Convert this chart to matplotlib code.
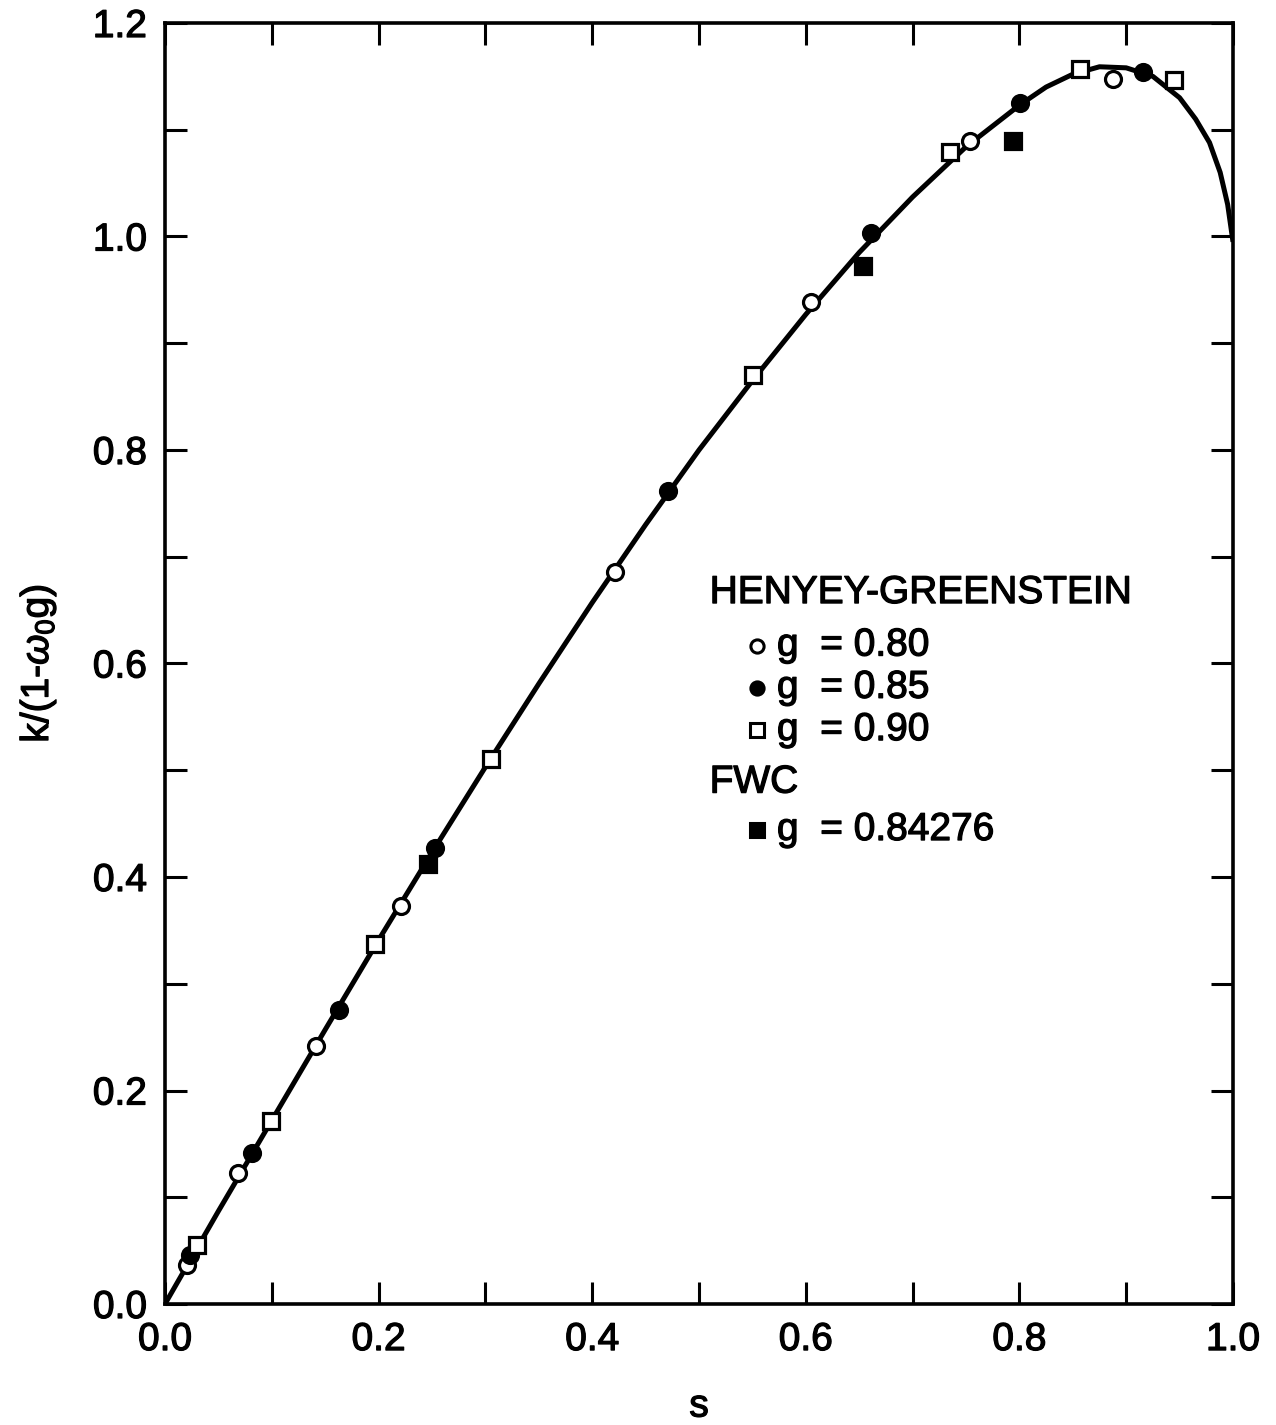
import matplotlib
matplotlib.use("Agg")
import matplotlib.pyplot as plt
import matplotlib.patheffects as pe
from matplotlib.ticker import MultipleLocator

plt.rcParams['font.family'] = ['Liberation Sans', 'DejaVu Sans']
plt.rcParams['mathtext.fontset'] = 'custom'
plt.rcParams['mathtext.rm'] = 'Liberation Sans'
plt.rcParams['mathtext.it'] = 'Liberation Sans:italic'

# Fitted curve
curve_s = [0, 0.05, 0.1, 0.15, 0.2, 0.25, 0.3, 0.35, 0.4, 0.45, 0.5, 0.55, 0.6,
           0.65, 0.7, 0.75, 0.8, 0.825, 0.85, 0.875, 0.9, 0.925, 0.95, 0.965,
           0.978, 0.988, 0.995, 1.0]
curve_k = [0, 0.087, 0.172, 0.257, 0.341, 0.423, 0.503, 0.581, 0.657, 0.730,
           0.800, 0.865, 0.927, 0.985, 1.037, 1.084, 1.123, 1.140, 1.152, 1.159,
           1.158, 1.150, 1.130, 1.110, 1.088, 1.060, 1.030, 0.995]

# Henyey-Greenstein g = 0.80 (open circles)
hg80_s = [0.021, 0.068, 0.141, 0.221, 0.421, 0.605, 0.754, 0.888]
hg80_k = [0.037, 0.123, 0.242, 0.373, 0.686, 0.939, 1.089, 1.148]

# Henyey-Greenstein g = 0.85 (filled circles)
hg85_s = [0.023, 0.081, 0.163, 0.253, 0.471, 0.661, 0.801, 0.916]
hg85_k = [0.046, 0.141, 0.275, 0.427, 0.762, 1.003, 1.125, 1.154]

# Henyey-Greenstein g = 0.90 (open squares)
hg90_s = [0.030, 0.099, 0.197, 0.305, 0.551, 0.735, 0.857, 0.945]
hg90_k = [0.055, 0.171, 0.337, 0.511, 0.870, 1.079, 1.157, 1.147]

# FWC g = 0.84276 (filled squares)
fwc_s = [0.246, 0.654, 0.794]
fwc_k = [0.412, 0.972, 1.089]

fig = plt.figure(figsize=(12.76, 14.25), dpi=100)
ax = fig.add_axes([165/1276, 121/1425, 1068/1276, 1281/1425])

ax.plot(curve_s, curve_k, color='black', lw=3.6, solid_capstyle='butt',
        solid_joinstyle='round', zorder=2)

ms = 11.5
mew = 2.3
ax.plot(hg80_s, hg80_k, 'o', ms=ms, mfc='white', mec='black', mew=mew, zorder=3)
ax.plot(hg85_s, hg85_k, 'o', ms=ms, mfc='black', mec='black', mew=mew, zorder=3)
ax.plot(hg90_s, hg90_k, 's', ms=ms, mfc='white', mec='black', mew=mew, zorder=3)
ax.plot(fwc_s, fwc_k, 's', ms=ms, mfc='black', mec='black', mew=mew, zorder=3)

ax.set_xlim(0, 1.0)
ax.set_ylim(0, 1.2)

ax.xaxis.set_major_locator(MultipleLocator(0.2))
ax.xaxis.set_minor_locator(MultipleLocator(0.1))
ax.yaxis.set_major_locator(MultipleLocator(0.2))
ax.yaxis.set_minor_locator(MultipleLocator(0.1))
ax.xaxis.set_major_formatter(plt.FuncFormatter(lambda v, p: f"{v:.1f}"))
ax.yaxis.set_major_formatter(plt.FuncFormatter(lambda v, p: f"{v:.1f}"))

fs = 28
bold = [pe.withStroke(linewidth=0.9, foreground='black')]
for which in ('major', 'minor'):
    ax.tick_params(axis='both', which=which, direction='in', length=16, width=2.2,
                   top=True, right=True, labelsize=fs, pad=13)
for lab in ax.get_xticklabels() + ax.get_yticklabels():
    lab.set_path_effects(bold)

for sp in ax.spines.values():
    sp.set_linewidth(2.6)

ax.set_xlabel('s', fontsize=fs, path_effects=bold)
ax.set_ylabel(r'k/(1-$\omega_0$g)', fontsize=fs, path_effects=bold)
ax.xaxis.set_label_coords(0.5, -0.066)
ax.yaxis.set_label_coords(-0.100, 0.5)

# Legend block
ax.text(0.510, 0.555, 'HENYEY-GREENSTEIN', transform=ax.transAxes, fontsize=fs,
        va='center', ha='left', path_effects=bold)
ax.text(0.510, 0.407, 'FWC', transform=ax.transAxes, fontsize=fs,
        va='center', ha='left', path_effects=bold)
entries = [
    (0.514, 'o', 'white', 'g  = 0.80'),
    (0.481, 'o', 'black', 'g  = 0.85'),
    (0.448, 's', 'white', 'g  = 0.90'),
    (0.370, 's', 'black', 'g  = 0.84276'),
]
for yf, mk, fc, lab in entries:
    ax.plot([0.554], [yf], mk, ms=9.5, mfc=fc, mec='black', mew=2.2,
            transform=ax.transAxes, clip_on=False)
    ax.text(0.573, yf, lab, transform=ax.transAxes, fontsize=fs,
            va='center', ha='left', path_effects=bold)

fig.savefig('out.png', dpi=100)
